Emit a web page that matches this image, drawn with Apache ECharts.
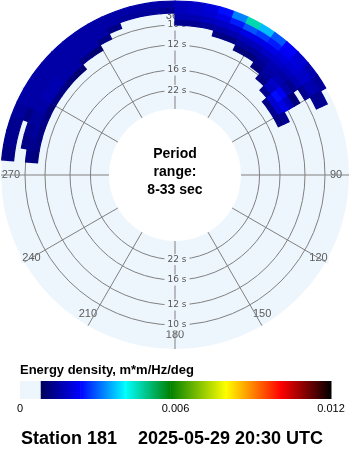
<!DOCTYPE html>
<html><head><meta charset="utf-8">
<script src="https://cdn.jsdelivr.net/npm/echarts@6/dist/echarts.min.js"></script>
<style>html,body{margin:0;padding:0;background:#fff}#c{width:350px;height:450px}</style>
</head><body><div id="c"></div>
<script>
// Direction bin centres (degrees, clockwise from north), 5-degree bins
const directions = [277.5, 282.5, 287.5, 292.5, 297.5, 302.5, 307.5, 312.5, 317.5, 322.5,
  327.5, 332.5, 337.5, 342.5, 347.5, 352.5, 357.5, 2.5, 7.5, 12.5,
  17.5, 22.5, 27.5, 32.5, 37.5, 42.5, 47.5, 52.5, 57.5, 62.5];
// Frequency bin centres (Hz), 0.005 Hz bins
const frequencies = [0.0725, 0.0775, 0.0825, 0.0875, 0.0925, 0.0975, 0.1025, 0.1075, 0.1125, 0.1175];
// Energy density (m*m/Hz/deg), one row per frequency, one value per direction
const e0725 = [0,0,0,0,0,0,0,0,0,0, 0,0,0,0,0,0,0,0,0,0, 0,0,0,0,0,0,0,0.0012,0.0013,0.0012];
const e0775 = [0,0,0,0,0,0,0,0,0,0, 0,0,0,0,0,0,0,0,0,0, 0,0,0,0,0,0,0.0013,0.0019,0.0019,0.0013];
const e0825 = [0,0,0,0,0,0,0,0,0,0, 0,0,0,0,0,0,0,0,0,0, 0,0,0,0,0,0.0012,0.0017,0.0024,0.0021,0];
const e0875 = [0,0,0,0,0,0,0,0,0,0, 0,0,0,0,0,0,0,0,0,0, 0,0,0,0,0.0011,0.0014,0.0018,0.0022,0.0017,0];
const e0925 = [0.0011,0.0012,0.0012,0.0012,0.0011,0.0012,0.0012,0.0011,0.0010,0, 0,0,0,0,0,0,0,0,0,0, 0,0,0.0011,0.0011,0.0013,0.0015,0.0016,0.0015,0.0011,0];
const e0975 = [0.0012,0.0013,0.0014,0.0014,0.0015,0.0016,0.0016,0.0015,0.0015,0.0012, 0.0010,0,0,0,0,0,0,0,0,0, 0.0012,0.0012,0.0014,0.0014,0.0015,0.0016,0.0015,0.0013,0,0];
const e1025 = [0,0.0012,0.0013,0.0014,0.0015,0.0016,0.0016,0.0015,0.0015,0.0015, 0.0015,0.0012,0,0,0,0,0,0.0013,0.0013,0.0014, 0.0015,0.0016,0.0017,0.0017,0.0018,0.0018,0.0017,0.0016,0.0013,0];
const e1075 = [0,0,0,0.0012,0.0015,0.0015,0.0015,0.0015,0.0015,0.0015, 0.0015,0.0015,0.0012,0,0,0,0,0.0016,0.0016,0.0017, 0.0018,0.0019,0.0021,0.0021,0.0021,0.0020,0.0019,0.0018,0.0016,0.0013];
const e1125 = [0.0012,0.0013,0.0013,0.0014,0.0015,0.0015,0.0015,0.0015,0.0015,0.0015, 0.0015,0.0015,0.0015,0.0014,0.0014,0.0014,0.0013,0.0017,0.0018,0.0019, 0.0021,0.0025,0.0029,0.0027,0.0025,0.0022,0.0020,0.0018,0.0016,0.0013];
const e1175 = [0.0012,0.0013,0.0013,0.0014,0.0015,0.0015,0.0015,0.0015,0.0015,0.0015, 0.0015,0.0015,0.0015,0.0015,0.0015,0.0015,0.0015,0.0017,0.0018,0.0020, 0.0024,0.0032,0.0046,0.0036,0.0029,0.0023,0.0019,0.0016,0.0014,0];
const energyRows = [e0725, e0775, e0825, e0875, e0925, e0975, e1025, e1075, e1125, e1175];

// Period rings (seconds)
const periodTicks = [10, 12, 16, 22];
// Colour scale
const colorStops = [0.0008, 0.00232, 0.00406, 0.0058, 0.00794, 0.01006, 0.012];
const stopColors = ['#00005a', '#0000ff', '#00ffff', '#008000', '#ffff00', '#ff0000', '#000000'];
const floorColor = '#eef6fd';
const colorbarTicks = [0, 0.006, 0.012];

const DIR_HALF = 2.5, FREQ_HALF = 0.0025;
const FONT = '"Liberation Sans", Arial, sans-serif';

function hex(c) { return [1, 3, 5].map(i => parseInt(c.slice(i, i + 2), 16)); }
function mix(c0, c1, t) {
  const a = hex(c0), b = hex(c1);
  return 'rgb(' + a.map((x, j) => Math.round(x + (b[j] - x) * t)).join(',') + ')';
}
function colorFor(v) {
  if (v < colorStops[0]) return floorColor;
  for (let i = 1; i < colorStops.length; i++) {
    if (v <= colorStops[i]) {
      return mix(stopColors[i - 1], stopColors[i], (v - colorStops[i - 1]) / (colorStops[i] - colorStops[i - 1]));
    }
  }
  return stopColors[stopColors.length - 1];
}

const heatData = [];
energyRows.forEach((row, i) => row.forEach((v, j) => {
  if (v > 0) heatData.push([frequencies[i], directions[j], v]);
}));

const barSegments = [[0, colorStops[0], floorColor, floorColor]];
for (let i = 1; i < colorStops.length; i++) {
  barSegments.push([colorStops[i - 1], colorStops[i], stopColors[i - 1], stopColors[i]]);
}

const chart = echarts.init(document.getElementById('c'), null, { renderer: 'canvas' });
chart.setOption({
  animation: false,
  backgroundColor: '#ffffff',
  polar: { center: [175, 175], radius: [66, 174] },
  angleAxis: {
    type: 'value', min: 0, max: 360, interval: 30, startAngle: 90, clockwise: true,
    axisLine: { show: false }, axisTick: { show: false },
    splitLine: { show: true, lineStyle: { color: '#808080', width: 1 } },
    splitArea: { show: false },
    axisLabel: {
      margin: -20, color: '#5a5a5a', fontSize: 11, fontFamily: FONT,
      backgroundColor: floorColor, padding: [0, 1],
      formatter: v => (v === 0 ? '360' : (v === 360 ? '' : String(v)))
    }
  },
  radiusAxis: {
    type: 'value', min: 0.03, max: 0.12,
    axisLine: { show: false }, axisTick: { show: false },
    axisLabel: { show: false }, splitLine: { show: false }
  },
  grid: { left: 20, right: 19, top: 381, height: 18 },
  xAxis: {
    type: 'value', min: colorbarTicks[0], max: colorbarTicks[2], interval: colorbarTicks[1] - colorbarTicks[0],
    axisLine: { show: false }, axisTick: { show: false }, splitLine: { show: false },
    axisLabel: { fontSize: 11, color: '#000', margin: 4, fontFamily: FONT,
      formatter: v => (v === 0 ? '0' : v.toFixed(3)) }
  },
  yAxis: { type: 'value', min: 0, max: 1, show: false },
  graphic: [
    { type: 'text', x: 175, y: 172, z: 10, style: { text: 'Period\nrange:\n8-33 sec', font: 'bold 14px ' + FONT,
      fill: '#000', align: 'center', verticalAlign: 'middle', textAlign: 'center', textVerticalAlign: 'middle', lineHeight: 18 } },
    { type: 'text', x: 20, y: 370, z: 10, style: { text: 'Energy density, m*m/Hz/deg', font: 'bold 13px ' + FONT,
      fill: '#000', align: 'left', verticalAlign: 'middle', textAlign: 'left', textVerticalAlign: 'middle' } },
    { type: 'text', x: 21, y: 439, z: 10, style: { text: 'Station 181', font: 'bold 18px ' + FONT,
      fill: '#000', align: 'left', verticalAlign: 'middle', textAlign: 'left', textVerticalAlign: 'middle' } },
    { type: 'text', x: 138, y: 439, z: 10, style: { text: '2025-05-29 20:30 UTC', font: 'bold 18px ' + FONT,
      fill: '#000', align: 'left', verticalAlign: 'middle', textAlign: 'left', textVerticalAlign: 'middle' } }
  ],
  series: [
    {
      // light-blue background annulus of the polar area, below the axis
      type: 'custom', coordinateSystem: 'polar', z: -1, silent: true,
      data: [[0.12, 0]],
      renderItem(params, api) {
        const cs = params.coordSys;
        return { type: 'sector', shape: { cx: cs.cx, cy: cs.cy, r0: cs.r0, r: cs.r, startAngle: 0, endAngle: Math.PI * 2 },
          style: { fill: floorColor, stroke: null } };
      }
    },
    {
      type: 'custom', coordinateSystem: 'polar', z: 2, silent: true,
      data: periodTicks.map(T => [1 / T, 0, T]),
      renderItem(params, api) {
        const cs = params.coordSys;
        const f = api.value(0);
        const pt = api.coord([f, 0]);
        const pb = api.coord([f, 180]);
        const rr = Math.hypot(pt[0] - cs.cx, pt[1] - cs.cy);
        const label = api.value(2) + ' s';
        const ts = (p) => ({ type: 'text', x: p[0] + 2, y: p[1], z2: 5,
          style: { text: label, font: '9px "DejaVu Sans", sans-serif', fill: '#555',
            align: 'center', verticalAlign: 'middle', textAlign: 'center', textVerticalAlign: 'middle',
            backgroundColor: floorColor, padding: [1, 3] } });
        return { type: 'group', children: [
          { type: 'circle', shape: { cx: cs.cx, cy: cs.cy, r: rr }, style: { fill: 'none', stroke: '#808080', lineWidth: 1 } },
          ts(pt), ts(pb)
        ] };
      }
    },
    {
      type: 'custom', coordinateSystem: 'polar', z: 3, silent: true,
      data: heatData,
      renderItem(params, api) {
        const cs = params.coordSys;
        const cx = cs.cx, cy = cs.cy;
        const f = api.value(0), d = api.value(1), v = api.value(2);
        const pIn = api.coord([f - FREQ_HALF, d]);
        const pOut = api.coord([f + FREQ_HALF, d]);
        const r0 = Math.hypot(pIn[0] - cx, pIn[1] - cy);
        const r = Math.hypot(pOut[0] - cx, pOut[1] - cy);
        const pa = api.coord([f, d - DIR_HALF]);
        const pb = api.coord([f, d + DIR_HALF]);
        let a0 = Math.atan2(pa[1] - cy, pa[0] - cx);
        let a1 = Math.atan2(pb[1] - cy, pb[0] - cx);
        if (a1 < a0) a1 += 2 * Math.PI;
        const col = colorFor(v);
        return { type: 'sector', shape: { cx, cy, r0, r, startAngle: a0, endAngle: a1, clockwise: true },
          style: { fill: col, stroke: col, lineWidth: 1.2 } };
      }
    },
    {
      type: 'custom', coordinateSystem: 'cartesian2d', silent: true,
      data: barSegments,
      renderItem(params, api) {
        const s = barSegments[params.dataIndex];
        const p0 = api.coord([s[0], 1]);
        const p1 = api.coord([s[1], 0]);
        return { type: 'rect', shape: { x: p0[0], y: p0[1], width: p1[0] - p0[0] + 0.5, height: p1[1] - p0[1] },
          style: { fill: new echarts.graphic.LinearGradient(0, 0, 1, 0, [
            { offset: 0, color: s[2] }, { offset: 1, color: s[3] }]) } };
      }
    }
  ]
});
</script>
</body></html>
